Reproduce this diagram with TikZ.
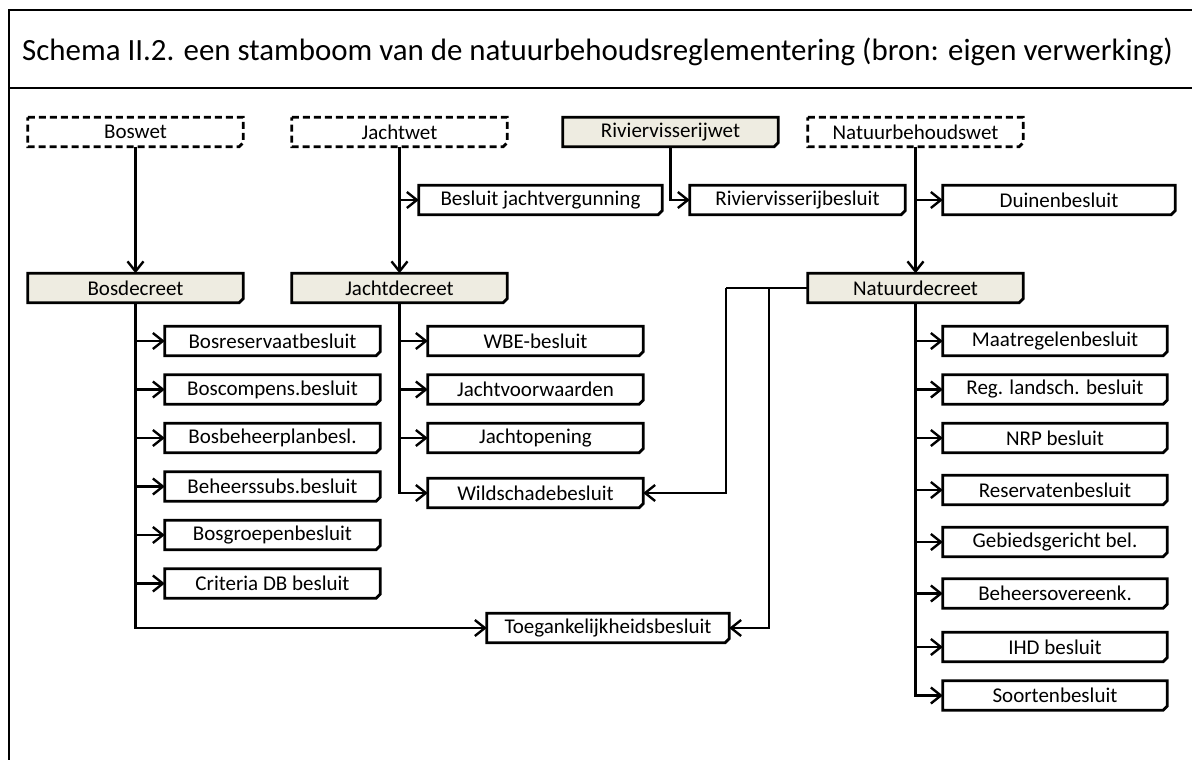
\documentclass[tikz,border=0pt]{standalone}
\usepackage{fontspec}
\setmainfont{Carlito}
\usetikzlibrary{arrows.meta,backgrounds}
\definecolor{lawfill}{HTML}{EEECE1}
\tikzset{
  doc/.style={minimum width=215pt, minimum height=29pt, inner sep=0pt,
    font=\fontsize{21}{23}\selectfont},
  outline/.style={line width=2.8pt, line join=miter},
  dashline/.style={outline, dash pattern=on 7pt off 4pt},
  link/.style={line width=2.4pt},
  arr/.style={link, -{Straight Barb[length=10pt,width=16pt]}},
}
\begin{document}
\begin{tikzpicture}[x=1pt,y=-1pt]
\useasboundingbox (0,0) rectangle (1192,760);
\clip (0,0) rectangle (1192,760);

% frame and title
\draw[line width=2.8pt] (9,800) -- (9,10) -- (1220,10);
\draw[line width=2.8pt] (9,88) -- (1220,88);
\node[anchor=base west, inner sep=0pt, font=\fontsize{30.9}{34}\selectfont] (title) at (22,61)
  {Schema II.2. een stamboom van de natuurbehoudsreglementering (bron: eigen verwerking)};

% laws
\node[doc] (boswet) at (135.5,132) {Boswet};
\node[doc] (jachtwet) at (399.5,132) {Jachtwet};
\node[doc] (rivwet) at (670.5,132) {Riviervisserijwet};
\node[doc] (natwet) at (915.5,132) {Natuurbehoudswet};

% decisions under the laws
\node[doc, minimum width=243pt] (bjv) at (540.5,200) {Besluit jachtvergunning};
\node[doc] (rivbes) at (797.5,200) {Riviervisserijbesluit};
\node[doc, minimum width=232pt] (duinen) at (1059,200) {Duinenbesluit};

% decrees
\node[doc] (bosdec) at (135.5,288) {Bosdecreet};
\node[doc] (jachtdec) at (399.5,288) {Jachtdecreet};
\node[doc] (natdec) at (915.5,288) {Natuurdecreet};

% Bosdecreet decisions
\node[doc] (b1) at (272.5,341) {Bosreservaatbesluit};
\node[doc] (b2) at (272.5,389.5) {Boscompens.besluit};
\node[doc] (b3) at (272.5,438) {Bosbeheerplanbesl.};
\node[doc] (b4) at (272.5,486.5) {Beheerssubs.besluit};
\node[doc] (b5) at (272.5,535) {Bosgroepenbesluit};
\node[doc] (b6) at (272.5,583.5) {Criteria DB besluit};

% Jachtdecreet decisions
\node[doc] (j1) at (535.5,341) {WBE-besluit};
\node[doc] (j2) at (535.5,389.5) {Jachtvoorwaarden};
\node[doc] (j3) at (535.5,438) {Jachtopening};
\node[doc] (wild) at (535.5,493) {Wildschadebesluit};

% Natuurdecreet decisions
\node[doc, minimum width=224pt] (n1) at (1055,341) {Maatregelenbesluit};
\node[doc, minimum width=224pt] (n2) at (1055,389.5) {Reg. landsch. besluit};
\node[doc, minimum width=224pt] (n3) at (1055,438) {NRP besluit};
\node[doc, minimum width=224pt] (n4) at (1055,490) {Reservatenbesluit};
\node[doc, minimum width=224pt] (n5) at (1055,542) {Gebiedsgericht bel.};
\node[doc, minimum width=224pt] (n6) at (1055,593.5) {Beheersovereenk.};
\node[doc, minimum width=224pt] (n7) at (1055,647) {IHD besluit};
\node[doc, minimum width=224pt] (n8) at (1055,695.5) {Soortenbesluit};

% shared decision
\node[doc, minimum width=242pt] (toeg) at (608,628) {Toegankelijkheidsbesluit};

% box outlines with the clipped lower right corner
\begin{scope}[on background layer]
\foreach \n/\f/\s in {boswet/white/dashline, jachtwet/white/dashline,
    rivwet/lawfill/outline, natwet/white/dashline,
    bjv/white/outline, rivbes/white/outline, duinen/white/outline,
    bosdec/lawfill/outline, jachtdec/lawfill/outline, natdec/lawfill/outline,
    b1/white/outline, b2/white/outline, b3/white/outline, b4/white/outline,
    b5/white/outline, b6/white/outline,
    j1/white/outline, j2/white/outline, j3/white/outline, wild/white/outline,
    n1/white/outline, n2/white/outline, n3/white/outline, n4/white/outline,
    n5/white/outline, n6/white/outline, n7/white/outline, n8/white/outline,
    toeg/white/outline}
  \draw[\s, fill=\f] (\n.north west) -- (\n.north east)
    -- ([yshift=4pt]\n.south east) -- ([xshift=-4pt]\n.south east)
    -- (\n.south west) -- cycle;
\end{scope}

% laws to decrees and decisions
\draw[arr] (boswet.south) -- (bosdec.north);
\draw[arr] (jachtwet.south) -- (jachtdec.north);
\draw[arr] (bjv.west -| jachtwet.south) -- (bjv.west);
\draw[arr] (rivwet.south) |- (rivbes.west);
\draw[arr] (natwet.south) -- (natdec.north);
\draw[arr] (duinen.west -| natwet.south) -- (duinen.west);

% Bosdecreet tree
\draw[arr] (bosdec.south) |- (toeg.west);
\foreach \c in {b1,b2,b3,b4,b5,b6}
  \draw[arr] (\c.west -| bosdec.south) -- (\c.west);

% Jachtdecreet tree
\draw[arr] (jachtdec.south) |- (wild.west);
\foreach \c in {j1,j2,j3}
  \draw[arr] (\c.west -| jachtdec.south) -- (\c.west);

% Natuurdecreet tree
\coordinate (nwild) at (726,288);
\coordinate (ntoeg) at (769,288);
\draw[link] (natdec.west) -- (nwild);
\draw[arr] (nwild) |- (wild.east);
\draw[arr] (ntoeg) |- (toeg.east);
\draw[arr] (natdec.south) |- (n8.west);
\foreach \c in {n1,n2,n3,n4,n5,n6,n7}
  \draw[arr] (\c.west -| natdec.south) -- (\c.west);
\end{tikzpicture}
\end{document}
